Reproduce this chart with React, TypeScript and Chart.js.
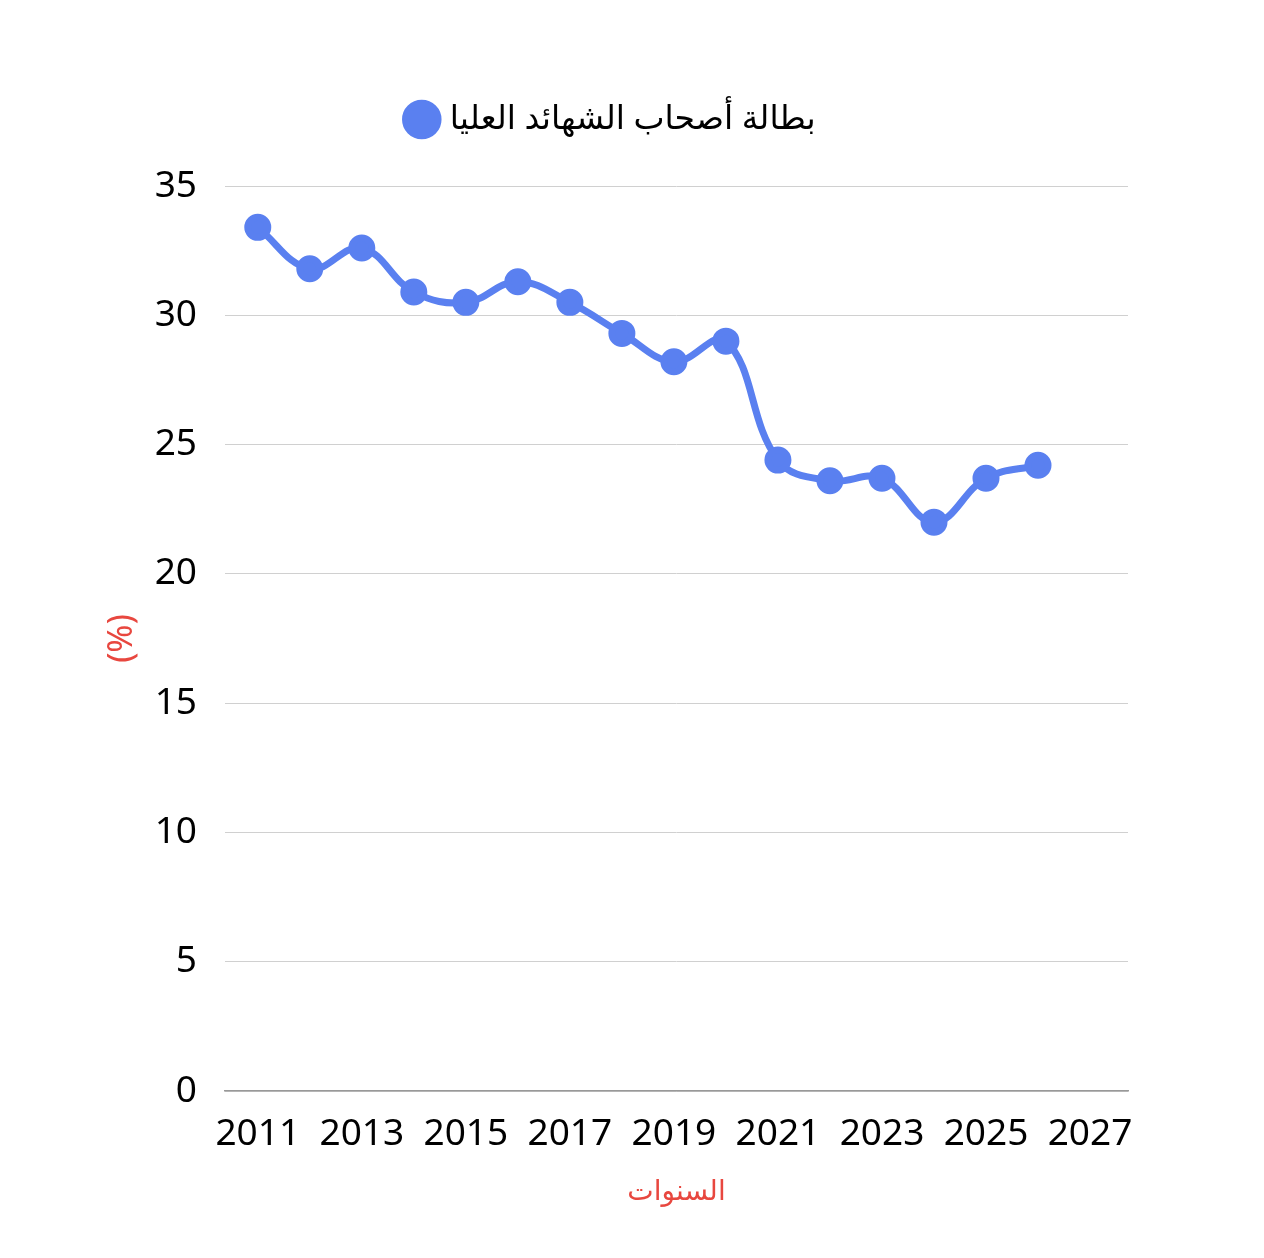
import { useEffect, useRef } from 'react';
import { Chart, registerables } from 'chart.js';

Chart.register(...registerables);

const years = [2011, 2012, 2013, 2014, 2015, 2016, 2017, 2018, 2019, 2020, 2021, 2022, 2023, 2024, 2025, 2026];
const unemployment = [33.4, 31.8, 32.6, 30.9, 30.5, 31.3, 30.5, 29.3, 28.2, 29.0, 24.4, 23.6, 23.7, 22.0, 23.7, 24.2];
const xTicks = [2011, 2013, 2015, 2017, 2019, 2021, 2023, 2025, 2027];

const seriesLabel = 'بطالة أصحاب الشهائد العليا';
const xTitle = 'السنوات';
const yTitle = '(%)';

// extra room under the legend
const legendGap = {
  id: 'legendGap',
  beforeInit(chart: any) {
    const fit = chart.legend.fit;
    chart.legend.fit = function () {
      fit.bind(chart.legend)();
      this.height += 40;
    };
  },
};

const App = () => {
  const canvasRef = useRef<HTMLCanvasElement>(null);

  useEffect(() => {
    if (!canvasRef.current) return;
    const chart = new Chart(canvasRef.current, {
      type: 'line',
      data: {
        datasets: [
          {
            label: seriesLabel,
            data: years.map((y, i) => ({ x: y, y: unemployment[i] })),
            borderColor: '#5a80f0',
            backgroundColor: '#5a80f0',
            borderWidth: 7,
            pointRadius: 10,
            pointHoverRadius: 10,
            tension: 0.4,
          },
        ],
      },
      plugins: [legendGap],
      options: {
        animation: false,
        responsive: true,
        maintainAspectRatio: false,
        layout: { padding: { top: 25, left: 90, right: 128, bottom: 37 } },
        font: { family: '"Noto Sans", sans-serif' },
        plugins: {
          legend: {
            labels: {
              usePointStyle: true,
              pointStyle: 'circle',
              boxWidth: 23,
              boxHeight: 23,
              color: '#000',
              font: { size: 33, family: '"Noto Sans", "DejaVu Sans", sans-serif' },
              padding: 70,
            },
          },
          tooltip: { enabled: false },
        },
        scales: {
          x: {
            type: 'linear',
            min: 2010.37,
            max: 2027.73,
            afterBuildTicks: (axis) => {
              axis.ticks = xTicks.map((v) => ({ value: v }));
            },
            grid: { display: false },
            border: { display: true, color: '#999', width: 1.5 },
            ticks: {
              color: '#000',
              font: { size: 37, family: '"Noto Sans", sans-serif' },
              padding: 13,
              maxRotation: 0,
              callback: (v) => String(v),
            },
            title: {
              display: true,
              text: xTitle,
              color: '#e8473f',
              font: { size: 28, family: '"Noto Sans", "DejaVu Sans", sans-serif' },
              padding: { top: 6 },
            },
          },
          y: {
            min: 0,
            max: 35,
            afterFit: (axis) => {
              axis.width = 127;
            },
            ticks: {
              stepSize: 5,
              color: '#000',
              font: { size: 37, family: '"Noto Sans", sans-serif' },
              padding: 28,
            },
            grid: { color: '#d0d0d0', lineWidth: 1, drawTicks: false },
            border: { display: false },
            title: {
              display: true,
              text: yTitle,
              color: '#e8473f',
              font: { size: 34, family: '"Noto Sans", sans-serif' },
              padding: { bottom: 0 },
            },
          },
        },
      },
    });
    return () => {
      chart.destroy();
    };
  }, []);

  return (
    <div style={{ width: 1248, height: 1242, position: 'relative' }}>
      <canvas ref={canvasRef} />
    </div>
  );
};

export default App;
